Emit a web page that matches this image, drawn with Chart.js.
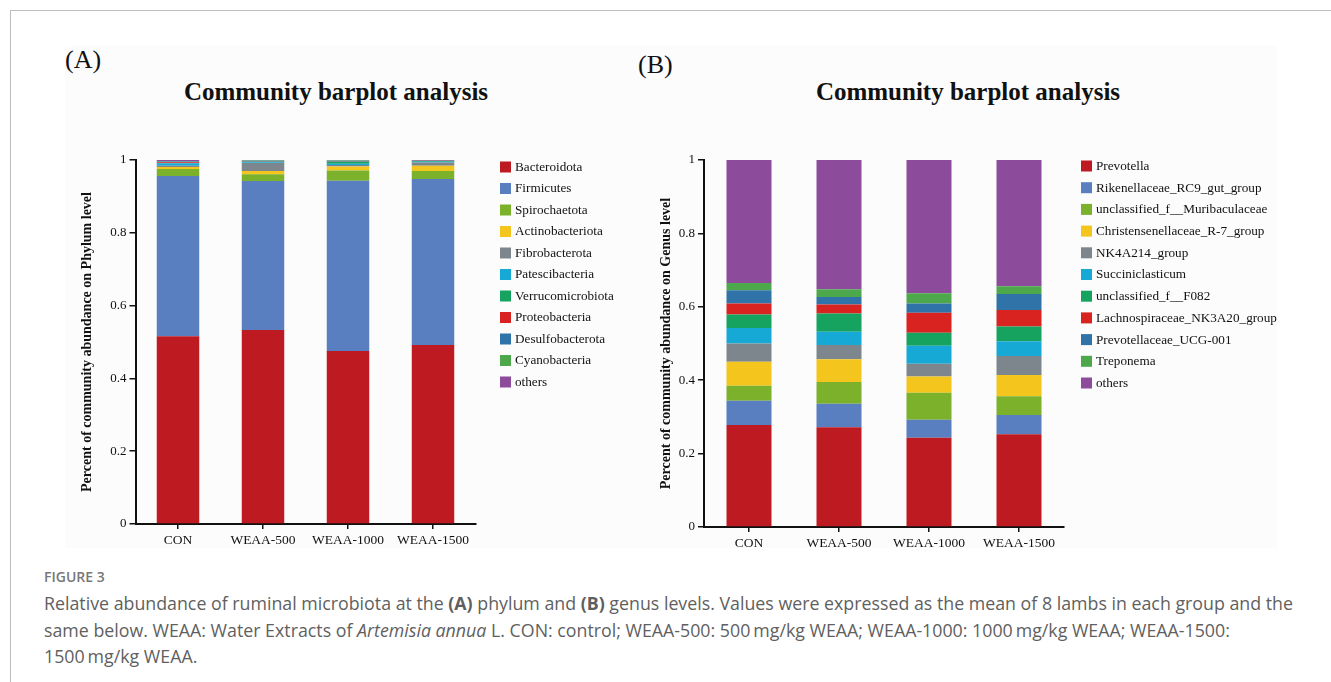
<!DOCTYPE html>
<html>
<head>
<meta charset="utf-8">
<script src="https://cdn.jsdelivr.net/npm/chart.js@4"></script>
<style>
  html, body { margin: 0; padding: 0; background: #fff; }
  body { width: 1331px; height: 682px; position: relative; overflow: hidden; }
  .frame { position: absolute; left: 10px; top: 10px; right: 0; bottom: -2px; border-top: 1.5px solid #bdbdbd; border-left: 1.5px solid #bdbdbd; }
  .figbg { position: absolute; left: 65px; top: 46px; width: 1212px; height: 502px; background: #fcfcfc; }
  .panel { position: absolute; font-family: "Liberation Serif", "Times New Roman", serif; color: #111; white-space: nowrap; }
  .letter { font-size: 26px; transform: translateY(-50%); }
  .title { font-size: 25px; font-weight: bold; transform: translate(-50%, -50%); }
  canvas { position: absolute; }
  .caption { position: absolute; left: 44px; font-family: "Open Sans", sans-serif; color: #5f5f5f; white-space: nowrap; }
  .fig { top: 567px; font-size: 14px; color: #777; font-weight: 600; }
  .text { top: 590px; font-size: 17.8px; line-height: 26.5px; }
</style>
</head>
<body>
<div class="frame"></div>
<div class="figbg"></div>
<div class="panel letter" style="left:65px; top:60px;">(A)</div>
<div class="panel letter" style="left:638px; top:65px;">(B)</div>
<div class="panel title" style="left:336px; top:92px;">Community barplot analysis</div>
<div class="panel title" style="left:968px; top:92px;">Community barplot analysis</div>
<canvas id="phylumChart" style="left:60px; top:140px;" width="565" height="414"></canvas>
<canvas id="genusChart" style="left:630px; top:140px;" width="660" height="417"></canvas>
<div class="caption fig">FIGURE 3</div>
<div class="caption text">Relative abundance of ruminal microbiota at the <b>(A)</b> phylum and <b>(B)</b> genus levels. Values were expressed as the mean of 8 lambs in each group and the<br>same below. WEAA: Water Extracts of <i>Artemisia annua</i> L. CON: control; WEAA-500: 500&#8201;mg/kg WEAA; WEAA-1000: 1000&#8201;mg/kg WEAA; WEAA-1500:<br>1500&#8201;mg/kg WEAA.</div>

<script>
// groups on the x axis
const groups = ['CON', 'WEAA-500', 'WEAA-1000', 'WEAA-1500'];
const yTicks = [0, 0.2, 0.4, 0.6, 0.8, 1];

// shared palette (same order in both panels)
const palette = ['#be1a22', '#5a7fc1', '#7cb22b', '#f3c51d', '#7d868c', '#17a9d5',
                 '#15a35f', '#d82321', '#3073a9', '#4da74b', '#8c4c9b'];

// (A) phylum level
const phylumNames = ['Bacteroidota', 'Firmicutes', 'Spirochaetota', 'Actinobacteriota', 'Fibrobacterota',
                     'Patescibacteria', 'Verrucomicrobiota', 'Proteobacteria', 'Desulfobacterota',
                     'Cyanobacteria', 'others'];
const bacteroidota = [0.516, 0.533, 0.475, 0.492];
const firmicutes = [0.440, 0.409, 0.468, 0.456];
const spirochaetota = [0.019, 0.019, 0.028, 0.022];
const actinobacteriota = [0.006, 0.009, 0.011, 0.014];
const fibrobacterota = [0.003, 0.022, 0.004, 0.009];
const patescibacteria = [0.007, 0.002, 0.004, 0.002];
const verrucomicrobiota = [0.001, 0.001, 0.005, 0.002];
const proteobacteria = [0.002, 0.001, 0.001, 0.001];
const desulfobacterota = [0.002, 0.002, 0.002, 0.001];
const cyanobacteria = [0.001, 0.001, 0.001, 0.0005];
const phylumOthers = [0.003, 0.001, 0.001, 0.0005];

// (B) genus level
const genusNames = ['Prevotella', 'Rikenellaceae_RC9_gut_group', 'unclassified_f__Muribaculaceae',
                    'Christensenellaceae_R-7_group', 'NK4A214_group', 'Succiniclasticum',
                    'unclassified_f__F082', 'Lachnospiraceae_NK3A20_group', 'Prevotellaceae_UCG-001',
                    'Treponema', 'others'];
const prevotella = [0.278, 0.272, 0.243, 0.253];
const rikenellaceae = [0.066, 0.064, 0.049, 0.052];
const muribaculaceae = [0.041, 0.059, 0.074, 0.051];
const christensenellaceae = [0.065, 0.062, 0.044, 0.058];
const nk4a214 = [0.050, 0.039, 0.035, 0.052];
const succiniclasticum = [0.042, 0.036, 0.049, 0.040];
const f082 = [0.037, 0.050, 0.035, 0.040];
const lachnospiraceae = [0.030, 0.024, 0.055, 0.045];
const prevotellaceae = [0.036, 0.021, 0.025, 0.044];
const treponema = [0.020, 0.021, 0.028, 0.021];
const genusOthers = [0.335, 0.352, 0.363, 0.344];

const serif = '"Liberation Serif", "Times New Roman", serif';

// legend drawn beside the plot, one row per dataset
const sideLegend = {
    id: 'sideLegend',
    afterDraw(chart, args, opts) {
        const { ctx, chartArea } = chart;
        ctx.save();
        ctx.font = '13.2px ' + serif;
        ctx.textBaseline = 'middle';
        chart.data.datasets.forEach((ds, i) => {
            const x = chartArea.right + opts.gap;
            const y = chartArea.top + opts.top + i * opts.step;
            ctx.fillStyle = ds.backgroundColor;
            ctx.fillRect(x, y - 5.5, 11, 11);
            ctx.fillStyle = '#111';
            ctx.fillText(ds.label, x + 15, y + 0.5);
        });
        ctx.restore();
    }
};

function buildChart(canvasId, names, series, opt) {
    const datasets = series.map((values, i) => ({
        label: names[i],
        data: values,
        backgroundColor: palette[i],
        borderWidth: 0,
        categoryPercentage: 1,
        barPercentage: 0.5
    }));

    return new Chart(document.getElementById(canvasId), {
        type: 'bar',
        data: { labels: groups, datasets: datasets },
        plugins: [sideLegend],
        options: {
            responsive: false,
            animation: false,
            layout: { padding: { top: 20, right: opt.padRight, left: 0, bottom: 0 } },
            scales: {
                x: {
                    stacked: true,
                    afterFit: (s) => { s.height = 30; },
                    grid: { display: true, drawOnChartArea: false, offset: false, tickLength: 5, color: '#111', lineWidth: 1.5 },
                    border: { display: true, color: '#111', width: 2 },
                    ticks: { color: '#111', padding: 3, font: { family: serif, size: 13.5 } }
                },
                y: {
                    stacked: true,
                    min: 0,
                    max: 1,
                    afterFit: (s) => { s.width = opt.axisWidth; },
                    afterBuildTicks: (s) => { s.ticks = yTicks.map(v => ({ value: v })); },
                    grid: { display: true, drawOnChartArea: false, tickLength: 6, color: '#111', lineWidth: 1.5 },
                    border: { display: true, color: '#111', width: 2 },
                    ticks: {
                        color: '#111',
                        padding: 3,
                        font: { family: serif, size: 13 },
                        callback: (v) => String(v)
                    },
                    title: {
                        display: true,
                        text: opt.yTitle,
                        color: '#111',
                        padding: { top: opt.titlePad, bottom: 0 },
                        font: { family: serif, size: 14, weight: 'bold' }
                    }
                }
            },
            plugins: {
                legend: { display: false },
                tooltip: { enabled: false },
                sideLegend: { gap: opt.legendGap, top: opt.legendTop, step: opt.legendStep }
            }
        }
    });
}

document.addEventListener('DOMContentLoaded', function () {
    buildChart('phylumChart', phylumNames,
        [bacteroidota, firmicutes, spirochaetota, actinobacteriota, fibrobacterota, patescibacteria,
         verrucomicrobiota, proteobacteria, desulfobacterota, cyanobacteria, phylumOthers],
        { padRight: 149.5, axisWidth: 75.5, titlePad: 18.5, legendGap: 24.5, legendTop: 7, legendStep: 21.5,
          yTitle: 'Percent of community abundance on Phylum level' });

    buildChart('genusChart', genusNames,
        [prevotella, rikenellaceae, muribaculaceae, christensenellaceae, nk4a214, succiniclasticum,
         f082, lachnospiraceae, prevotellaceae, treponema, genusOthers],
        { padRight: 226, axisWidth: 74, titlePad: 27.5, legendGap: 17, legendTop: 6, legendStep: 21.7,
          yTitle: 'Percent of community abundance on Genus level' });
});
</script>
</body>
</html>
